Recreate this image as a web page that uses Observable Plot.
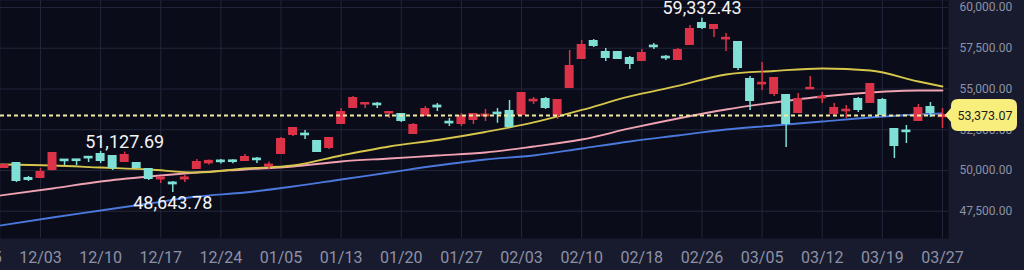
<!DOCTYPE html>
<html><head><meta charset="utf-8">
<script src="https://cdn.jsdelivr.net/npm/d3@7"></script>
<script src="https://cdn.jsdelivr.net/npm/@observablehq/plot@0.6"></script>
<style>
html,body{margin:0;padding:0;background:#181b2e;overflow:hidden}
#chart svg{display:block}
</style></head><body><div id="chart"></div>
<script>
// ---- data ----
const openV  = [50184,50429,49509,49570,50061,50640,50650,50810,50982,50859,50552,50429,50061,49480,49230,49480,50123,50470,50580,50590,50613,50700,50280,51043,52209,52230,51779,51411,52883,53865,54080,54070,53530,53436,52270,53374,53950,52960,52883,53129,53350,53520,53620,53436,54270,54356,53374,55092,56871,57914,57240,57240,56871,56749,57630,56950,56810,57730,59018,58712,58070,57853,55583,55310,54724,54600,53558,55010,54450,53497,53660,54356,54172,54294,52515,52420,53068,53865,53300];
const highV  = [50368,50491,49632,50123,51080,50675,50680,50860,51166,50920,51127.69,50491,50123,49632,49325,49693,50675,50640,50675,50660,50982,50800,50520,52025,52620,52454,51840,52000,53804,54540,54130,54172,53580,53460,52883,53926,54110,53190,53497,53497,53742,53800,54294,54785,54479,54479,54320,57362,57975,58037,57485,57260,56994,57423,57791,57055,57485,58896,59332.43,58920,58405,57880,55767,56626,55706,54620,54724,55767,54785,54110,53988,54479,55320,54417,52560,52761,54049,54172,53804];
const lowV   = [50123,49264,49325,49509,49980,50307,50300,50490,50429,50000,50500,50123,49386,49202,48643.78,49264,50061,50340,50400,50420,50560,50430,50050,51000,52086,51902,51104,51288,52883,53860,53804,53804,53190,52945,52240,53313,53620,52699,52699,52822,53006,52900,52640,53400,54049,53742,53129,55031,56850,57546,56687,56810,56196,56730,57423,56749,56790,57700,58650,58160,57301,56135,53681,54908,54540,51411,53520,54969,54110,53374,53190,53558,54110,53313,50736,51656,53030,53252,52577];
const closeV = [50307,49386,49448,49877,51043,50600,50610,50770,50613,50184,50920,50184,49509,49530,49180,49540,50491,50560,50540,50550,50797,50660,50330,51902,52577,52190,51166,51963,53558,54417,54110,54030,53558,53068,52761,53742,53900,52920,53313,53436,53400,53480,52699,54724,54310,53865,54294,56380,57669,57669,56933,56871,56564,57178,57590,56910,57362,58650,58773,58896,58110,56319,54294,55350,55644,52883,54356,55040,54490,53804,53700,53742,55276,53436,51534,52380,53804,53558,53373.07];

const tickLabels = ["11/25","12/03","12/10","12/17","12/24","01/05","01/13","01/20","01/27","02/03","02/10","02/18","02/26","03/05","03/12","03/19","03/27"];
const yTicks = [47500,50000,52500,55000,57500,60000];

const maIdx   = [-0.3,4,8,12,16,20,24,28,32,36,40,44,48,52,56,60,64,68,72,76,78];
const maShort = [50368,50307,50184,50061,49877,50123,50307,50920,51472,51871,52362,52945,53712,54540,55190,55890,56104,56258,56135,55460,55153];
const maMid   = [48466,48896,49325,49632,49877,50061,50245,50552,50736,50920,51104,51472,51902,52577,53190,53742,54172,54540,54785,54908,54908];
const maLong  = [46626,47117,47546,47975,48405,48650,49018,49448,49877,50307,50675,50920,51350,51779,52147,52515,52761,53006,53252,53436,53497];

const annIdx = [10,14,58];
const annVal = [51127.69,48643.78,59332.43];
const annHigh = [true,false,true];

// ---- build ----
const candles = openV.map((o,i)=>({i,open:o,high:highV[i],low:lowV[i],close:closeV[i]}));
const upC = candles.filter(d=>d.close>=d.open);
const dnC = candles.filter(d=>d.close<d.open);
const tickIdx = tickLabels.map((_,k)=>-2+5*k);
const lastClose = closeV[closeV.length-1];
const fmt = d3.format(",.2f");
const UP="#dc3349", DOWN="#7fe0d5";
const mk = vals => maIdx.map((i,k)=>({i,v:vals[k]}));
const anns = annIdx.map((i,k)=>({i,v:annVal[k],hi:annHigh[k]}));
const GRID="#22263a", AX="#8c91a6";

const body = (data,color)=>Plot.rect(data,{x1:d=>d.i-0.29,x2:d=>d.i+0.29,y1:"open",y2:"close",fill:color,stroke:color,strokeWidth:2});
const wick = (data,color)=>Plot.ruleX(data,{x:"i",y1:"low",y2:"high",stroke:color,strokeWidth:1.5});

const plot = Plot.plot({
  width:1024, height:270,
  marginLeft:0, marginRight:76, marginTop:0, marginBottom:32,
  x:{type:"linear", domain:[-0.325,78.5], axis:null},
  y:{domain:[45828,60429], axis:null},
  style:{background:"#181b2e", fontFamily:"Roboto, sans-serif", overflow:"hidden"},
  marks:[
    Plot.frame({fill:"#0b0c1a", stroke:"none"}),
    Plot.ruleX(tickIdx,{x:d=>d, stroke:GRID, strokeWidth:1}),
    Plot.ruleY(yTicks,{y:d=>d, stroke:GRID, strokeWidth:1}),
    Plot.line(mk(maLong),{x:"i",y:"v",stroke:"#4a78dc",strokeWidth:1.8,curve:"monotone-x",clip:true}),
    Plot.line(mk(maMid),{x:"i",y:"v",stroke:"#f0a2b2",strokeWidth:1.8,curve:"monotone-x",clip:true}),
    Plot.line(mk(maShort),{x:"i",y:"v",stroke:"#d6c64c",strokeWidth:1.8,curve:"monotone-x",clip:true}),
    wick(upC,UP), body(upC,UP),
    wick(dnC,DOWN), body(dnC,DOWN),
    Plot.ruleY([lastClose],{y:d=>d, stroke:"#f1eaa0", strokeWidth:1.8, strokeDasharray:"4,3"}),
    Plot.text(tickLabels,{x:(d,k)=>tickIdx[k], frameAnchor:"bottom", dy:19, text:d=>d, fill:AX, fontSize:16, lineAnchor:"middle"}),
    Plot.text(yTicks,{y:d=>d, frameAnchor:"right", dx:11, textAnchor:"start", text:d=>fmt(d), fill:AX, fontSize:12, lineAnchor:"middle"}),
    Plot.text(anns.filter(d=>d.hi),{x:"i",y:"v",text:d=>fmt(d.v),fill:"#f4f4f6",fontSize:18,lineAnchor:"bottom",dy:-4}),
    Plot.text(anns.filter(d=>!d.hi),{x:"i",y:"v",text:d=>fmt(d.v),fill:"#f4f4f6",fontSize:18,lineAnchor:"top",dy:4})
  ]
});
document.getElementById("chart").appendChild(plot);

// price tag on the right axis
const ys = plot.scale("y").apply(lastClose);
const L=951, R=1017, T=ys-16, B=ys+16, r=7;
const g = d3.select(plot).append("g");
g.append("path")
  .attr("d",`M${L+r},${T}H${R-r}Q${R},${T} ${R},${T+r}V${B-r}Q${R},${B} ${R-r},${B}H${L+r}Q${L},${B} ${L},${B-r}V${ys+7}L${L-6},${ys}L${L},${ys-7}V${T+r}Q${L},${T} ${L+r},${T}Z`)
  .attr("fill","#f8ee7c");
g.append("text").attr("x",985).attr("y",ys).attr("text-anchor","middle").attr("dominant-baseline","central")
  .attr("font-family","Roboto, sans-serif").attr("font-size",12.5).attr("fill","#1c1c1c").text(fmt(lastClose));
</script></body></html>
